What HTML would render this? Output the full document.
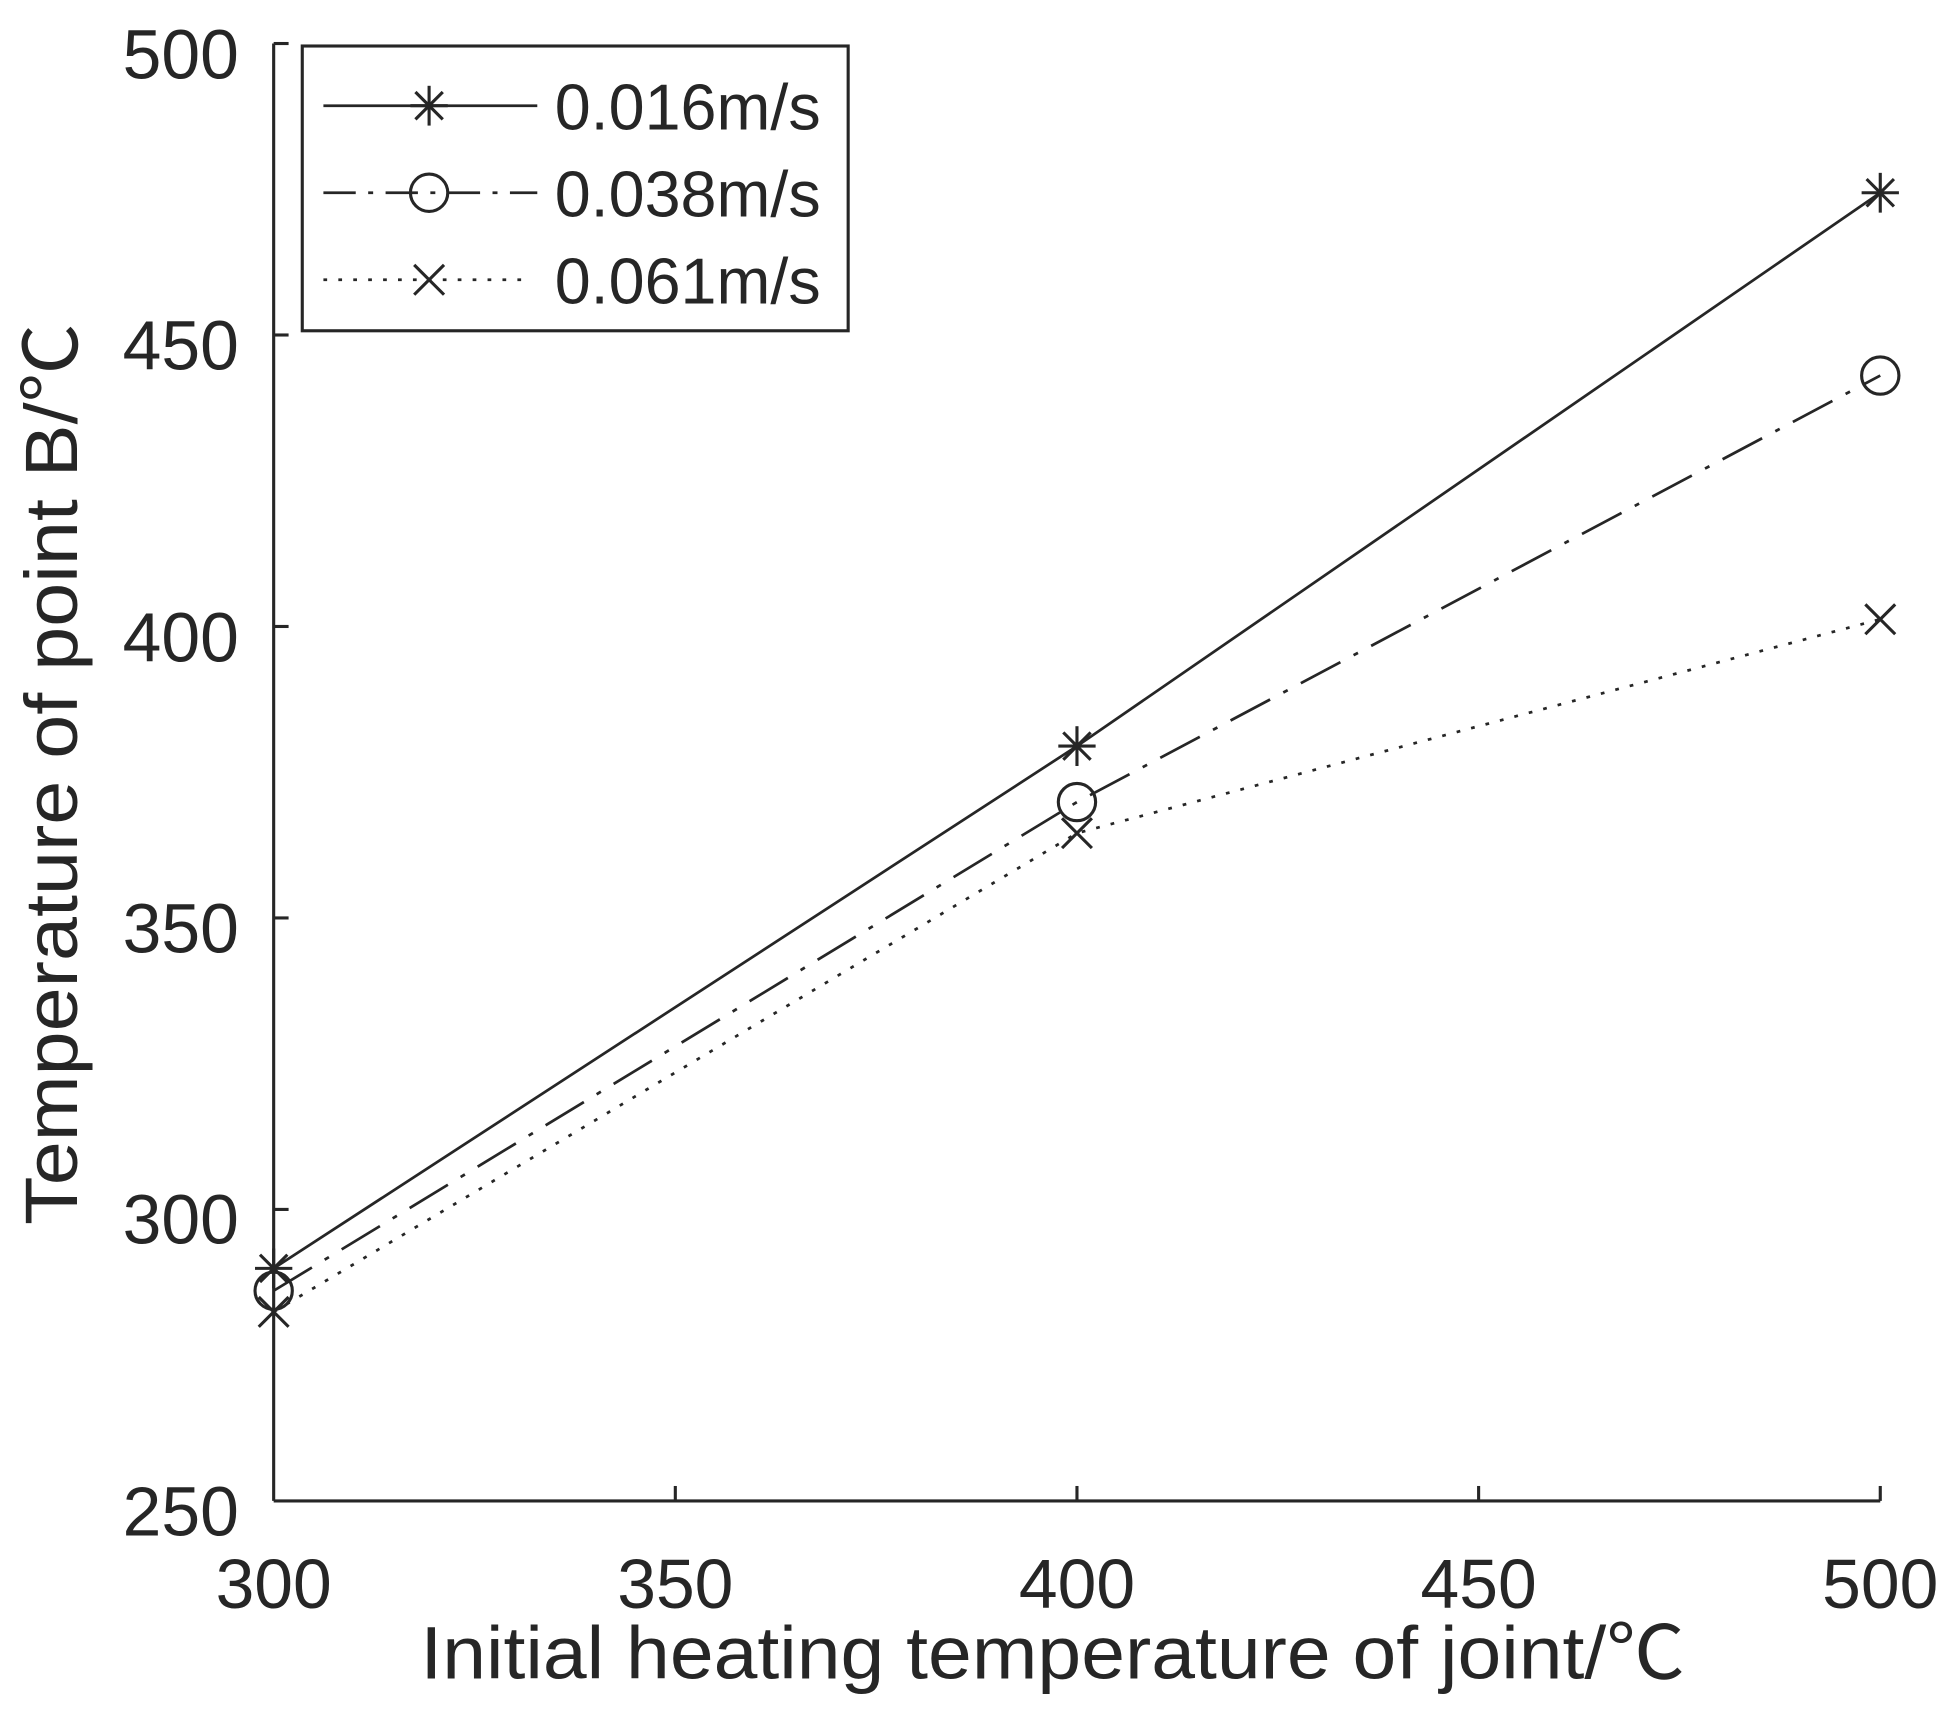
<!DOCTYPE html>
<html><head><meta charset="utf-8"><style>
html,body{margin:0;padding:0;background:#fff;}
svg{display:block;}
text{font-family:"Liberation Sans","Noto Sans CJK SC",sans-serif;fill:#262626;}
</style></head><body>
<svg width="1950" height="1721" viewBox="0 0 1568 1384" xmlns="http://www.w3.org/2000/svg">
<rect width="1568" height="1384" fill="#fff"/>
<g stroke="#262626" stroke-width="2.5" fill="none">
<line x1="220" y1="35" x2="220" y2="1207"/>
<line x1="220" y1="1207" x2="1512" y2="1207"/>
<line x1="220" y1="35" x2="232" y2="35"/>
<line x1="220" y1="269.4" x2="232" y2="269.4"/>
<line x1="220" y1="503.8" x2="232" y2="503.8"/>
<line x1="220" y1="738.2" x2="232" y2="738.2"/>
<line x1="220" y1="972.6" x2="232" y2="972.6"/>
<line x1="543" y1="1207" x2="543" y2="1195"/>
<line x1="866" y1="1207" x2="866" y2="1195"/>
<line x1="1189" y1="1207" x2="1189" y2="1195"/>
<line x1="1512" y1="1207" x2="1512" y2="1195"/>
</g>
<g font-size="56" text-anchor="end">
<text x="192" y="63">500</text>
<text x="192" y="297">450</text>
<text x="192" y="532">400</text>
<text x="192" y="766">350</text>
<text x="192" y="1000">300</text>
<text x="192" y="1235">250</text>
</g>
<g font-size="56" text-anchor="middle">
<text x="220" y="1293">300</text>
<text x="543" y="1293">350</text>
<text x="866" y="1293">400</text>
<text x="1189" y="1293">450</text>
<text x="1512" y="1293">500</text>
</g>
<text x="338" y="1350" font-size="60" textLength="1017" lengthAdjust="spacingAndGlyphs">Initial heating temperature of joint/℃</text>
<text transform="translate(62,985) rotate(-90)" font-size="60" textLength="725" lengthAdjust="spacingAndGlyphs">Temperature of point B/℃</text>
<g stroke="#262626" stroke-width="2.2" fill="none">
<polyline points="220,1020 866,600 1512,155"/>
<polyline points="220,1038 866,645 1512,302" stroke-dasharray="36,12,4,12"/>
<polyline points="220,1055 866,670 1512,498" stroke-dasharray="3,9"/>
</g>
<defs>
<g id="st" stroke="#262626" stroke-width="2.5"><line x1="-15" y1="0" x2="15" y2="0"/><line x1="0" y1="-16" x2="0" y2="16"/><line x1="-11" y1="-11" x2="11" y2="11"/><line x1="-11" y1="11" x2="11" y2="-11"/></g>
<g id="ci"><circle r="15" fill="none" stroke="#262626" stroke-width="2.5"/></g>
<g id="xx" stroke="#262626" stroke-width="2.5"><line x1="-12" y1="-12" x2="12" y2="12"/><line x1="-12" y1="12" x2="12" y2="-12"/></g>
</defs>
<use href="#st" x="220" y="1020"/><use href="#st" x="866" y="600"/><use href="#st" x="1512" y="155"/>
<use href="#ci" x="220" y="1038"/><use href="#ci" x="866" y="645"/><use href="#ci" x="1512" y="302"/>
<use href="#xx" x="220" y="1055"/><use href="#xx" x="866" y="670"/><use href="#xx" x="1512" y="498"/>
<rect x="243" y="37" width="439" height="229" fill="#fff" stroke="#262626" stroke-width="2.5"/>
<g stroke="#262626" stroke-width="2.2" fill="none">
<line x1="260" y1="85" x2="432" y2="85"/>
<line x1="260" y1="155" x2="432" y2="155" stroke-dasharray="26,10,4,10"/>
<line x1="260" y1="225" x2="420" y2="225" stroke-dasharray="3,9"/>
</g>
<use href="#st" x="345" y="85"/><use href="#ci" x="345" y="155"/><use href="#xx" x="345" y="225"/>
<g font-size="52">
<text x="446" y="104">0.016m/s</text>
<text x="446" y="174">0.038m/s</text>
<text x="446" y="244">0.061m/s</text>
</g>
</svg>
</body></html>
